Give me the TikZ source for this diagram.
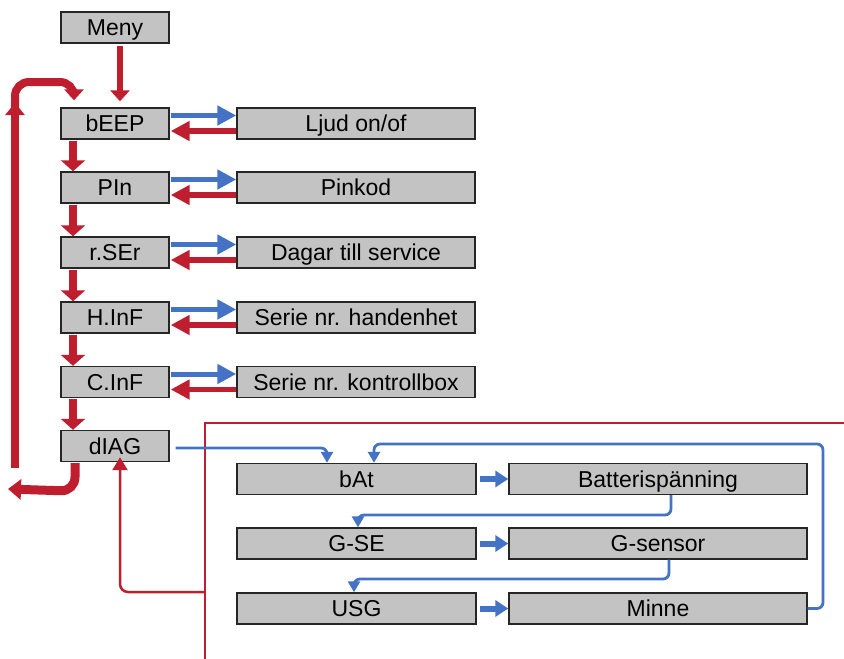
\documentclass[tikz,border=0pt]{standalone}
\usepackage{fontspec}
\setmainfont{Liberation Sans}
\usetikzlibrary{arrows.meta}
\definecolor{bred}{RGB}{190,30,45}
\definecolor{bblue}{RGB}{68,114,196}
\definecolor{bgray}{RGB}{195,195,195}
\begin{document}
\begin{tikzpicture}[x=1pt,y=-1pt,
  box/.style={draw=black!85,line width=1.4pt,fill=bgray,minimum height=31pt,inner sep=0pt,
    text height=16.5pt,text depth=0pt,
    font=\fontsize{23}{26}\selectfont},
  lbox/.style={box,minimum width=108pt},
  rbox/.style={box,minimum width=238pt},
  redthick/.style={draw=bred,line width=8pt,-{Triangle[length=11pt,width=24pt]}},
  redmid/.style={draw=bred,line width=6.5pt,-{Triangle[length=11pt,width=19pt]}},
  redside/.style={draw=bred,line width=5.5pt,-{Triangle[length=19pt,width=19pt]}},
  blueside/.style={draw=bblue,line width=5pt,-{Triangle[length=19pt,width=19pt]}},
  bluethick/.style={draw=bblue,line width=6pt,-{Triangle[length=13pt,width=16pt]}},
  bluethin/.style={draw=bblue,line width=2.8pt,rounded corners=6pt,-{Triangle[length=11pt,width=12pt]}},
  redthin/.style={draw=bred,line width=2.5pt},
]
\useasboundingbox (0,0) rectangle (844,659);
% left column
\node[lbox] (meny) at (115,27.5) {Meny};
\node[lbox] (beep) at (115,123.5) {bEEP};
\node[lbox] (pin) at (115,187.5) {PIn};
\node[lbox] (rser) at (115,252.5) {r.SEr};
\node[lbox] (hinf) at (115,317.5) {H.InF};
\node[lbox] (cinf) at (115,382) {C.InF};
\node[lbox] (diag) at (115,446) {dIAG};
% right column
\node[rbox] (ljud) at (356,123.5) {Ljud on/of};
\node[rbox] (pink) at (356,187.5) {Pinkod};
\node[rbox] (dag) at (356,252.5) {Dagar till service};
\node[rbox] (hand) at (356,317.5) {Serie nr. handenhet};
\node[rbox] (kont) at (356,382) {Serie nr. kontrollbox};
% diagnostics
\node[box,minimum width=239pt] (bat) at (356.5,479) {bAt};
\node[box,minimum width=298pt] (batt) at (658,479) {Batterispänning};
\node[box,minimum width=239pt] (gse) at (356.5,543.5) {G-SE};
\node[box,minimum width=298pt] (gsen) at (658,543.5) {G-sensor};
\node[box,minimum width=239pt] (usg) at (356.5,608.5) {USG};
\node[box,minimum width=298pt] (minne) at (658,608.5) {Minne};

% Meny -> bEEP
\draw[redmid] ([xshift=5pt,yshift=-2pt]meny.south) -- ([xshift=5pt,yshift=6pt]beep.north);
% down chain
\foreach \a/\b in {beep/pin,pin/rser,rser/hinf,hinf/cinf,cinf/diag}
  \draw[redthick] ([xshift=-42pt,yshift=-1pt]\a.south) -- ([xshift=-42pt]\b.north);
% side arrows
\foreach \a/\b in {beep/ljud,pin/pink,rser/dag,hinf/hand,cinf/kont}{
  \draw[blueside] ([xshift=1pt,yshift=8pt]\a.east) -- ([yshift=8pt]\b.west);
  \draw[redside] ([yshift=-7.5pt]\b.west) -- ([xshift=1pt,yshift=-7.5pt]\a.east);
}
% loop back
\coordinate (lb) at (8,489);
\coordinate (lup0) at (15,468);
\coordinate (lup1) at (15,103);
\coordinate (ltop) at (15,110);
\draw[draw=bred,line width=9pt,rounded corners=14pt,-{Triangle[length=13pt,width=20pt]}]
  ([xshift=-40pt,yshift=-1pt]diag.south) -- ++(0,28) -- (lb);
\draw[draw=bred,line width=8pt,-{Triangle[length=12pt,width=19pt]}] (lup0) -- (lup1);
\draw[draw=bred,line width=8pt,rounded corners=14pt,-{Triangle[length=11pt,width=19pt]}]
  (ltop) -- (15,82) -- (74,82) -- ([xshift=-41pt,yshift=7pt]beep.north);

% red thin frame
\coordinate (fr1) at (844,423);
\coordinate (fr2) at (205,423);
\coordinate (fr3) at (205,659);
\coordinate (fr4) at (205,592);
\draw[redthin] (fr1) -- (fr2) -- (fr3);
\draw[redthin,rounded corners=8pt,-{Triangle[length=13pt,width=15pt]}]
  (fr4) -- (120,592) -- ([xshift=5pt,yshift=5pt]diag.south);

% blue thin connectors
\draw[bluethin] ([xshift=6pt,yshift=-2pt]diag.east) -- (327,448) -- ([xshift=-29.5pt]bat.north);
\draw[bluethin] (minne.east) -- (823,608.5) -- (823,444) -- (374,444) -- ([xshift=17.5pt]bat.north);
\draw[bluethin] ([xshift=13pt]batt.south) -- (671,515) -- (358,515) -- ([xshift=1.5pt]gse.north);
\draw[bluethin] ([xshift=11pt]gsen.south) -- (669,579) -- (354,579) -- ([xshift=-2.5pt]usg.north);

% blue thick
\draw[bluethick] ([xshift=3pt]bat.east) -- (batt.west);
\draw[bluethick] ([xshift=3pt]gse.east) -- (gsen.west);
\draw[bluethick] ([xshift=3pt]usg.east) -- (minne.west);
\end{tikzpicture}
\end{document}
